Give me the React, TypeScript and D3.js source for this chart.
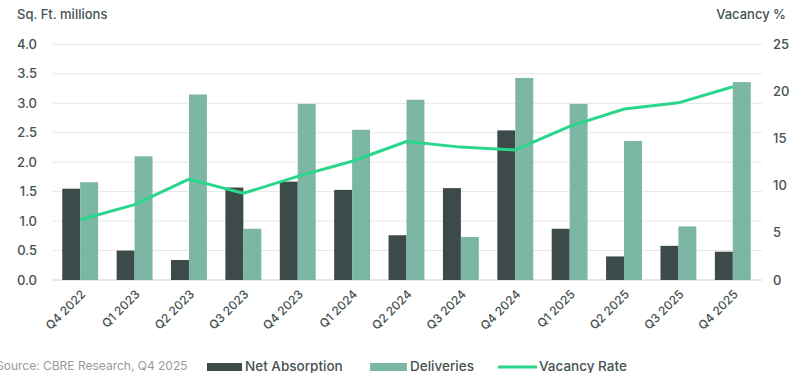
import React from "react";
import * as d3 from "d3";

const categories = ["Q4 2022","Q1 2023","Q2 2023","Q3 2023","Q4 2023","Q1 2024","Q2 2024","Q3 2024","Q4 2024","Q1 2025","Q2 2025","Q3 2025","Q4 2025"];
const netAbsorption = [1.55,0.50,0.34,1.57,1.67,1.53,0.76,1.56,2.54,0.87,0.40,0.58,0.48];
const deliveries = [1.66,2.10,3.15,0.87,2.99,2.55,3.06,0.73,3.43,2.99,2.36,0.91,3.36];
const vacancyRate = [6.4,8.0,10.7,9.2,11.0,12.6,14.7,14.1,13.8,16.3,18.15,18.8,20.5];
const leftTicks = [0,0.5,1,1.5,2,2.5,3,3.5,4];
const rightTicks = [0,5,10,15,20,25];

const W = 801, H = 373;
const DARK = "#3c4a4a", LIGHT = "#7cb6a5", LINE = "#2ad68c";
const TXT = "#465151";
const FONT = "Inter, 'Noto Sans', sans-serif";

export default function App() {
  const x = d3.scaleBand<string>().domain(categories).range([53, 760]).paddingInner(0.34).paddingOuter(0.17);
  const yL = d3.scaleLinear().domain([0, 4]).range([280, 44.4]);
  const yR = d3.scaleLinear().domain([0, 25]).range([280, 44.4]);
  const bw = x.bandwidth() / 2;
  const line = d3.line<number>().x((_, i) => (x(categories[i]) as number) + x.bandwidth() / 2).y(d => yR(d));
  return (
    <svg width={W} height={H} style={{ position: "absolute", left: 0, top: 0, background: "#fff" }} fontFamily={FONT} fontWeight={500}>
      <text x={17} y={19} fontSize={13} fill={TXT}>Sq. Ft. millions</text>
      <text x={786} y={19} fontSize={13} fill={TXT} textAnchor="end">Vacancy %</text>
      {leftTicks.map(t => (
        <g key={t}>
          <line x1={53} x2={762} y1={yL(t)} y2={yL(t)} stroke={t === 0 ? "#cfcfcf" : "#e6e6e6"} strokeWidth={1} />
          <text x={37} y={yL(t) + 4.5} fontSize={13} fill={TXT} textAnchor="end">{t.toFixed(1)}</text>
        </g>
      ))}
      {rightTicks.map(t => (
        <text key={t} x={773} y={yR(t) + 4.5} fontSize={13} fill={TXT}>{t}</text>
      ))}
      {categories.map((c, i) => (
        <g key={c}>
          <rect x={x(c) as number} y={yL(netAbsorption[i])} width={bw} height={280 - yL(netAbsorption[i])} fill={DARK} />
          <rect x={(x(c) as number) + bw} y={yL(deliveries[i])} width={bw} height={280 - yL(deliveries[i])} fill={LIGHT} />
          <text transform={`translate(${(x(c) as number) + x.bandwidth() / 2 + 6},${295}) rotate(-45)`} fontSize={12} fill={TXT} textAnchor="end">{c}</text>
        </g>
      ))}
      <path d={line(vacancyRate) || ""} fill="none" stroke={LINE} strokeWidth={3} strokeLinejoin="round" />
      <text x={-4} y={370} fontSize={12} fontWeight={400} fill="#9a9a9a">Source: CBRE Research, Q4 2025</text>
      <rect x={207} y={363} width={35} height={8} fill={DARK} />
      <text x={245} y={371} fontSize={13.5} fill={TXT}>Net Absorption</text>
      <rect x={370} y={363} width={37} height={8} fill={LIGHT} />
      <text x={410} y={371} fontSize={13.5} fill={TXT}>Deliveries</text>
      <line x1={498} x2={537} y1={367} y2={367} stroke={LINE} strokeWidth={3} />
      <text x={539} y={371} fontSize={13.5} fill={TXT}>Vacancy Rate</text>
    </svg>
  );
}
